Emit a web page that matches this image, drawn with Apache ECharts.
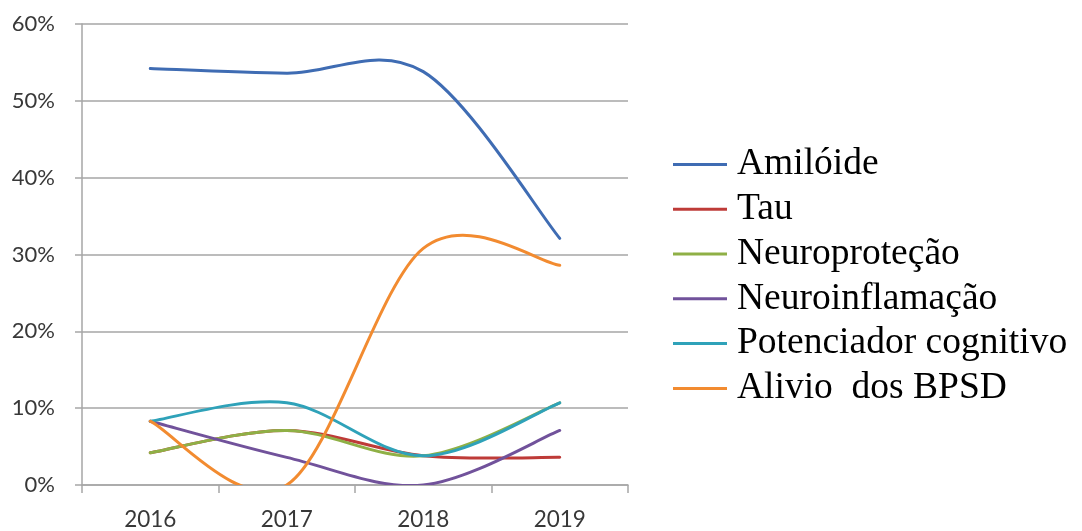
<!DOCTYPE html>
<html>
<head>
<meta charset="utf-8">
<script src="https://cdn.jsdelivr.net/npm/echarts@6/dist/echarts.min.js"></script>
<style>
  html, body { margin: 0; padding: 0; background: #ffffff; }
  #chart { width: 1082px; height: 531px; }
</style>
</head>
<body>
<div id="chart"></div>
<script>
// Share of targets per year (%)
const years = ['2016', '2017', '2018', '2019'];
const amiloide = [54.2, 53.6, 53.8, 32.1];
const tau = [4.2, 7.1, 3.8, 3.6];
const neuroprotecao = [4.2, 7.1, 3.8, 10.7];
const neuroinflamacao = [8.3, 3.6, 0, 7.1];
const potenciador = [8.3, 10.7, 3.8, 10.7];
const alivio = [8.3, 0, 30.8, 28.6];
const yTicks = [0, 10, 20, 30, 40, 50, 60];

const seriesDefs = [
  { name: 'Amilóide', data: amiloide, color: '#3f6cb3' },
  { name: 'Tau', data: tau, color: '#be3b38' },
  { name: 'Neuroproteção', data: neuroprotecao, color: '#8fb046' },
  { name: 'Neuroinflamação', data: neuroinflamacao, color: '#71529b' },
  { name: 'Potenciador cognitivo', data: potenciador, color: '#2fa2b9' },
  { name: 'Alivio  dos BPSD', data: alivio, color: '#f28b30' }
];

// Cardinal (Catmull-Rom) spline through the projected points, drawn as one
// path so the curve may swing past its points like a spreadsheet smoothed line.
function smoothRenderer(values, color) {
  return function (params, api) {
    if (params.dataIndex !== 0) return null;
    const pts = values.map((v, k) => api.coord([k, v]));
    const n = pts.length;
    let d = 'M' + pts[0][0] + ',' + pts[0][1];
    for (let i = 0; i < n - 1; i++) {
      const p0 = pts[Math.max(i - 1, 0)];
      const p1 = pts[i];
      const p2 = pts[i + 1];
      const p3 = pts[Math.min(i + 2, n - 1)];
      const c1x = p1[0] + (p2[0] - p0[0]) / 6;
      const c1y = p1[1] + (p2[1] - p0[1]) / 6;
      const c2x = p2[0] - (p3[0] - p1[0]) / 6;
      const c2y = p2[1] - (p3[1] - p1[1]) / 6;
      d += ' C' + c1x + ',' + c1y + ' ' + c2x + ',' + c2y + ' ' + p2[0] + ',' + p2[1];
    }
    const cs = params.coordSys;
    return {
      type: 'path',
      shape: { pathData: d },
      style: { fill: null, stroke: color, lineWidth: 3, lineCap: 'round', lineJoin: 'round' },
      clipPath: { type: 'rect', shape: { x: cs.x, y: cs.y, width: cs.width, height: cs.height } },
      silent: true
    };
  };
}

const chart = echarts.init(document.getElementById('chart'), null, { renderer: 'canvas' });

chart.setOption({
  animation: false,
  backgroundColor: '#ffffff',
  grid: { left: 82, right: 454, top: 24, bottom: 44, containLabel: false },
  legend: {
    orient: 'vertical',
    left: 668,
    top: 137,
    itemGap: 0,
    itemWidth: 54,
    itemHeight: 12,
    icon: 'path://M0,5 L54,5 L54,8 L0,8 Z',
    textStyle: {
      fontFamily: '"Liberation Serif", "Times New Roman", serif',
      fontSize: 37.5,
      lineHeight: 44.8,
      color: '#000000',
      padding: [0, 0, 0, 5]
    },
    data: seriesDefs.map(s => s.name)
  },
  xAxis: {
    type: 'category',
    data: years,
    boundaryGap: true,
    axisLine: { show: true, lineStyle: { color: '#a6a6a6', width: 1.5 } },
    axisTick: { show: true, length: 8, lineStyle: { color: '#a6a6a6', width: 1.5 } },
    axisLabel: {
      margin: 23,
      fontFamily: 'Lato, "Open Sans", sans-serif',
      fontSize: 22.5,
      color: '#383838'
    },
    splitLine: { show: false }
  },
  yAxis: {
    type: 'value',
    min: yTicks[0],
    max: yTicks[yTicks.length - 1],
    interval: 10,
    axisLine: { show: true, lineStyle: { color: '#a6a6a6', width: 1.5 } },
    axisTick: { show: true, length: 7, lineStyle: { color: '#a6a6a6', width: 1.5 } },
    axisLabel: {
      margin: 27,
      fontFamily: 'Lato, "Open Sans", sans-serif',
      fontSize: 22,
      color: '#383838',
      formatter: '{value}%'
    },
    splitLine: { show: true, lineStyle: { color: '#a6a6a6', width: 1.5 } }
  },
  series: seriesDefs.map((s, idx) => ({
    name: s.name,
    type: 'custom',
    coordinateSystem: 'cartesian2d',
    z: 2 + idx,
    data: s.data.map((v, k) => [k, v]),
    encode: { x: 0, y: 1 },
    renderItem: smoothRenderer(s.data, s.color),
    itemStyle: { color: s.color }
  }))
});
</script>
</body>
</html>
